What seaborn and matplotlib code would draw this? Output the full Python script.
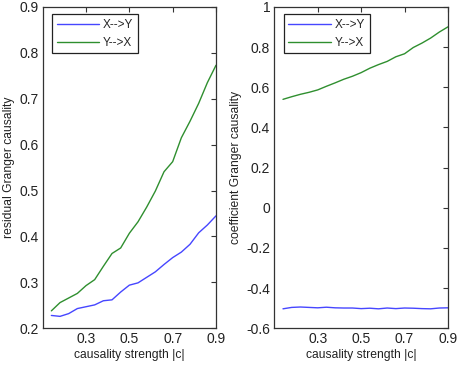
import numpy as np
import pandas as pd
import matplotlib
matplotlib.use("Agg")
import matplotlib.pyplot as plt
import seaborn as sns

# ---- data ----
c_strength = [0.14, 0.18, 0.22, 0.26, 0.30, 0.34, 0.38, 0.42, 0.46, 0.50,
              0.54, 0.58, 0.62, 0.66, 0.70, 0.74, 0.78, 0.82, 0.86, 0.90]
resid_xy = [0.228, 0.226, 0.232, 0.243, 0.247, 0.251, 0.260, 0.262, 0.279, 0.294,
            0.299, 0.311, 0.323, 0.339, 0.354, 0.366, 0.383, 0.408, 0.425, 0.445]
resid_yx = [0.238, 0.256, 0.266, 0.276, 0.293, 0.306, 0.335, 0.363, 0.375, 0.407,
            0.432, 0.464, 0.499, 0.541, 0.563, 0.615, 0.651, 0.690, 0.735, 0.773]
coef_xy = [-0.503, -0.496, -0.494, -0.496, -0.498, -0.495, -0.498, -0.499, -0.499, -0.502,
           -0.500, -0.503, -0.499, -0.502, -0.499, -0.500, -0.502, -0.503, -0.499, -0.498]
coef_yx = [0.540, 0.553, 0.565, 0.575, 0.587, 0.605, 0.622, 0.640, 0.655, 0.673,
           0.695, 0.713, 0.729, 0.752, 0.767, 0.798, 0.820, 0.845, 0.875, 0.901]
series_names = ["X-->Y", "Y-->X"]
xticks = [0.3, 0.5, 0.7, 0.9]
yticks_left = [0.2, 0.3, 0.4, 0.5, 0.6, 0.7, 0.8, 0.9]
yticks_right = [-0.6, -0.4, -0.2, 0, 0.2, 0.4, 0.6, 0.8, 1]

sns.set_style("white")
plt.rcParams['font.family'] = ['Liberation Sans', 'DejaVu Sans']

palette = {"X-->Y": "#4646ff", "Y-->X": "#2f8f2f"}

def long_df(a, b):
    return pd.DataFrame({
        "c": c_strength * 2,
        "value": list(a) + list(b),
        "dir": [series_names[0]] * len(a) + [series_names[1]] * len(b),
    })

fig = plt.figure(figsize=(4.59, 3.66), dpi=100)
fig.patch.set_facecolor("white")
ax1 = fig.add_axes([0.093, 0.103, 0.3776, 0.878])
ax2 = fig.add_axes([0.5976, 0.103, 0.3784, 0.878])

def style(ax, yticks, ylim, yfmt):
    ax.set_xlim(0.1, 0.9)
    ax.set_ylim(*ylim)
    ax.set_xticks(xticks)
    ax.set_xticklabels([f"{t:g}" for t in xticks])
    ax.set_yticks(yticks)
    ax.set_yticklabels([yfmt(t) for t in yticks])
    ax.tick_params(direction="in", length=3.5, width=0.8, top=True, right=True,
                   labelsize=10, colors="#333333", labelcolor="#222222", pad=3)
    for s in ax.spines.values():
        s.set_visible(True)
        s.set_color("#333333")
        s.set_linewidth(0.9)
    ax.set_xlabel("causality strength |c|", fontsize=8.7, color="#222222", labelpad=2)
    leg = ax.legend(loc="upper left", bbox_to_anchor=(0.02, 0.996), fontsize=8.5,
                    frameon=True, fancybox=False, edgecolor="#222222", framealpha=1,
                    handlelength=3.6, handletextpad=0.3, borderpad=0.4,
                    labelspacing=0.5, markerfirst=True)
    leg.get_frame().set_linewidth(0.9)

sns.lineplot(data=long_df(resid_xy, resid_yx), x="c", y="value", hue="dir",
             palette=palette, ax=ax1, linewidth=1.0)
style(ax1, yticks_left, (0.2, 0.9), lambda t: f"{t:.1f}")
ax1.set_ylabel("residual Granger causality", fontsize=8.7, color="#222222", labelpad=3)

sns.lineplot(data=long_df(coef_xy, coef_yx), x="c", y="value", hue="dir",
             palette=palette, ax=ax2, linewidth=1.0)
style(ax2, yticks_right, (-0.6, 1.0), lambda t: f"{t:g}")
ax2.set_ylabel("coefficient Granger causality", fontsize=8.7, color="#222222", labelpad=3)

fig.savefig("out.png", dpi=100, facecolor="white")
